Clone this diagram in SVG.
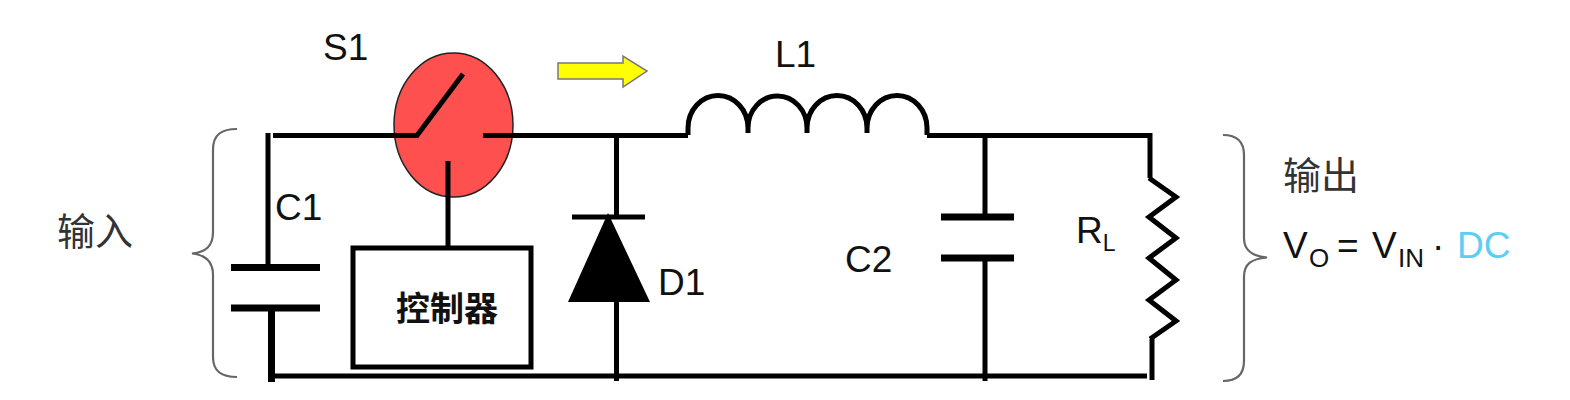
<svg xmlns="http://www.w3.org/2000/svg" width="1570" height="400" viewBox="0 0 1570 400">
<style>
.w{fill:none;stroke:#000;stroke-width:5;stroke-linecap:butt;stroke-linejoin:miter}
.p{fill:none;stroke:#000;stroke-width:7}
.b{fill:none;stroke:#666;stroke-width:2.2}
text{font-family:"Liberation Sans","Noto Sans CJK SC",sans-serif;font-size:37px;fill:#111}
.c{font-family:"Noto Sans CJK SC","Liberation Sans",sans-serif;font-size:38px;fill:#333}
.k{font-size:34px;font-weight:700;fill:#111}
.s{font-size:26px}
.s2{font-size:23px}
</style>
<rect width="1570" height="400" fill="#fff"/>
<g id="S1">
<ellipse cx="453.500" cy="125" rx="59.500" ry="72" fill="#ff5050" stroke="#222" stroke-width="1.500"/>
<path class="w" d="M273 135.500H417L463 74"/>
<path class="w" d="M483 135.500H513"/>
<text x="323" y="60">S1</text>
</g>
<g id="arrow">
<path d="M558 63H623V56L647 71L623 87V79H558Z" fill="#ffff00" stroke="#777" stroke-width="1.500"/>
</g>
<g id="connectors">
<path class="w" d="M513 135.500H688"/>
<path class="w" d="M927 135.500H1150"/>
<path class="w" d="M268 133V265"/>
<path class="p" d="M271.500 308V382"/>
<path class="w" d="M275 376H1147"/>
<path class="w" d="M448 161V247"/>
<path class="w" d="M616.500 135V215"/>
<path class="w" d="M616.500 300V381"/>
<path class="w" d="M985 135V215"/>
<path class="w" d="M985 258V381"/>
<path class="w" d="M1150 133V178"/>
<path class="w" d="M1152 339V380"/>
</g>
<g id="C1">
<path class="p" d="M231 267.500H320M231 308H320"/>
<text x="275" y="220">C1</text>
</g>
<g id="controller">
<rect x="353" y="248" width="178" height="119" fill="none" stroke="#000" stroke-width="5"/>
<text x="396" y="321" class="c k">控制器</text>
</g>
<g id="D1">
<path d="M572 217H645" stroke="#000" stroke-width="5"/>
<path d="M608 213L650 302H568Z" fill="#000"/>
<text x="658" y="295">D1</text>
</g>
<g id="L1">
<path class="w" d="M688 135V128A29.500 32 0 0 1 748 128V133M748 128A29.500 32 0 0 1 807 128V133M807 128A29.500 32 0 0 1 867 128V133M867 128A29.500 32 0 0 1 927 128V135"/>
<text x="775" y="67">L1</text>
</g>
<g id="C2">
<path class="p" d="M941 217H1014M941 258H1014"/>
<text x="845" y="272">C2</text>
</g>
<g id="RL">
<path class="w" d="M1149 178L1176 197L1149 217L1176 238L1149 258L1176 280L1149 300L1176 321L1150 339"/>
<text x="1076" y="243">R<tspan class="s2" dy="8">L</tspan></text>
</g>
<g id="input">
<path class="b" d="M237 129C222 129 213 134 213 150V232C213 246 206 252 192 253.500C206 255 213 262 213 275V357C213 372 222 377 237 377"/>
<text x="57" y="245" class="c">输入</text>
</g>
<g id="output">
<path class="b" d="M1223 135C1236 135 1244 141 1244 155V238C1244 250 1251 256 1267 257.500C1251 259 1244 264 1244 277V361C1244 375 1236 381 1223 381"/>
<text x="1283" y="189" class="c">输出</text>
<text y="258"><tspan x="1283">V</tspan><tspan x="1309" dy="9" class="s">O</tspan><tspan x="1337" dy="-9">=</tspan><tspan x="1372">V</tspan><tspan x="1398" dy="9" class="s">IN</tspan><tspan x="1432" dy="-9">·</tspan><tspan x="1457" style="fill:#5ccdf5">DC</tspan></text>
</g>
</svg>
